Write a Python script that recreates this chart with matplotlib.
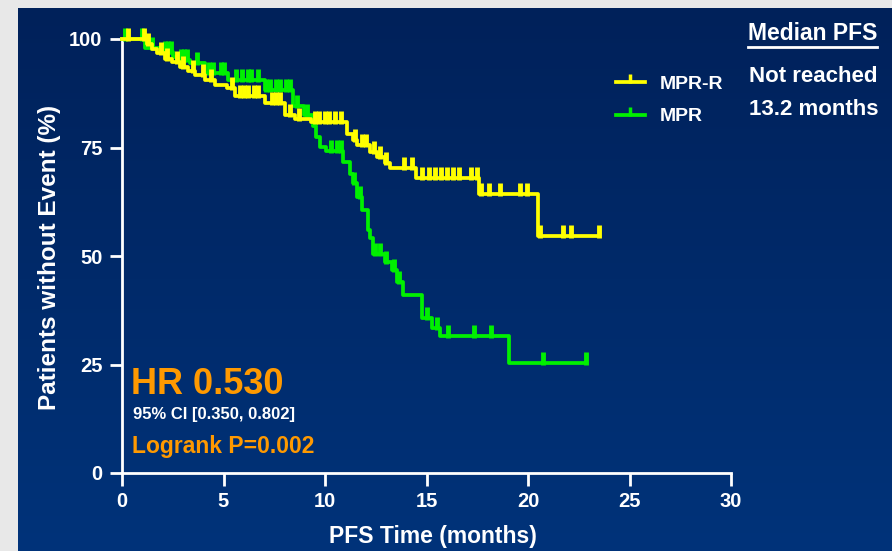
import numpy as np
import matplotlib.pyplot as plt
from matplotlib.path import Path
from matplotlib.lines import Line2D
from matplotlib.colors import LinearSegmentedColormap

plt.rcParams['font.family'] = ['Liberation Sans', 'DejaVu Sans']

# MPR-R arm: event times (months) and survival (%) just after each event
mprr_times = [1.23, 1.48, 1.72, 2.12, 2.46, 2.86, 3.25, 3.6, 4.09, 4.58, 5.17, 5.57,
              7.04, 8.03, 8.52, 9.3, 11.1, 11.4, 11.6, 12.2, 12.55, 12.95, 13.2,
              14.5, 17.6, 20.5]
mprr_surv = [98.8, 97.7, 96.8, 95.5, 94.6, 93.6, 92.6, 91.6, 90.6, 89.5, 88.6, 86.9,
             85.3, 82.5, 81.6, 80.9, 78.0, 76.8, 75.6, 74.0, 72.8, 71.5, 70.2,
             68.0, 64.2, 54.7]
mprr_end = 23.5
mprr_censor = [0.3, 1.1, 1.3, 1.9, 2.2, 2.7, 3.0, 3.5, 4.0, 4.4, 5.4, 5.8, 6.0, 6.2,
               6.5, 6.7, 7.4, 7.6, 7.8, 8.3, 8.7, 9.5, 9.7, 10.0, 10.2, 10.5, 10.8,
               11.5, 11.8, 12.0, 12.4, 12.7, 13.0, 13.9, 14.3, 14.8, 15.1, 15.4, 15.7,
               16.0, 16.3, 16.6, 17.2, 17.5, 17.7, 18.1, 18.6, 19.6, 19.95, 20.6,
               21.7, 22.1, 23.5]

# MPR arm
mpr_times = [1.13, 1.87, 2.51, 2.7, 3.35, 4.1, 5.2, 7.04, 8.42, 8.97, 9.4, 9.55,
             9.75, 10.05, 10.9, 11.23, 11.4, 11.6, 11.8, 12.1, 12.2, 12.36, 12.95,
             13.3, 13.55, 13.84, 14.78, 15.27, 15.66, 19.06]
mpr_surv = [98.0, 97.0, 95.8, 95.2, 94.5, 92.2, 90.6, 88.2, 84.6, 82.5, 80.0, 77.4,
            75.1, 74.3, 71.7, 69.0, 66.8, 63.6, 60.6, 56.0, 54.1, 50.5, 48.6,
            46.8, 44.0, 41.0, 35.7, 33.4, 31.6, 25.3]
mpr_end = 22.86
mpr_censor = [0.15, 1.0, 1.5, 2.1, 2.25, 2.4, 2.9, 3.05, 3.2, 3.7, 4.3, 4.5, 4.9,
              5.0, 5.6, 5.9, 6.2, 6.35, 6.7, 7.1, 7.3, 7.6, 7.8, 8.1, 8.3, 8.6, 9.1,
              10.3, 10.6, 10.8, 11.45, 11.7, 12.45, 12.7, 13.0, 13.4, 13.65, 15.0,
              15.5, 16.06, 17.34, 18.18, 20.74, 22.86]

YELLOW = '#ffff00'
GREEN = '#00f000'
ORANGE = '#ff9900'

# censor tick pointing upward from the curve
tick = Path([(0, -0.15), (0, 1.0)], [Path.MOVETO, Path.LINETO])


def km_steps(times, surv, end):
    t = np.r_[0, times, end]
    s = np.r_[100, surv, surv[-1]]
    return t, s


def censor_y(times, surv, cens):
    idx = np.searchsorted(times, cens, side='right') - 1
    s = np.asarray(surv)
    return np.where(idx < 0, 100, s[np.clip(idx, 0, None)])


fig = plt.figure(figsize=(8.92, 5.51), dpi=100, facecolor='#e8e8e8')

# dark blue gradient panel
bg = fig.add_axes([18 / 892, 0, 1 - 18 / 892, 543 / 551], zorder=-1)
cmap = LinearSegmentedColormap.from_list('panel', ['#00215a', '#00337a'])
bg.imshow(np.linspace(0, 1, 256).reshape(-1, 1), aspect='auto', cmap=cmap)
bg.axis('off')

ax = fig.add_axes([122 / 892, 78 / 551, 609 / 892, 434 / 551])
ax.patch.set_alpha(0)

arms = [
    (mpr_times, mpr_surv, mpr_end, mpr_censor, GREEN, 'MPR'),
    (mprr_times, mprr_surv, mprr_end, mprr_censor, YELLOW, 'MPR-R'),
]
for times, surv, end, cens, col, lab in arms:
    t, s = km_steps(times, surv, end)
    ax.step(t, s, where='post', color=col, lw=2.7, clip_on=False, zorder=3)
    ax.plot(cens, censor_y(times, surv, cens), ls='none', marker=tick, ms=16,
            mew=3.5, color=col, clip_on=False, zorder=3)

ax.set_xlim(0, 30)
ax.set_ylim(0, 100)
ax.set_xticks(range(0, 31, 5))
ax.set_yticks([0, 25, 50, 75, 100])
for sp in ['top', 'right']:
    ax.spines[sp].set_visible(False)
for sp in ['left', 'bottom']:
    ax.spines[sp].set_color('white')
    ax.spines[sp].set_linewidth(2)
ax.tick_params(colors='white', width=2, length=9, labelsize=14.5, pad=5)
for lbl in ax.get_xticklabels() + ax.get_yticklabels():
    lbl.set_fontweight('bold')

fig.text(50 / 892, 1 - 257 / 551, 'Patients without Event (%)', rotation=90,
         ha='center', va='center', color='white', fontsize=17.5, fontweight='bold')
fig.text(433 / 892, 1 - 537 / 551, 'PFS Time (months)', ha='center', va='center',
         color='white', fontsize=16.5, fontweight='bold')

# statistics box
fig.text(131 / 892, 1 - 385 / 551, 'HR 0.530', color=ORANGE, fontsize=26,
         fontweight='bold', ha='left', va='center')
fig.text(133 / 892, 1 - 414 / 551, '95% CI [0.350, 0.802]', color='white',
         fontsize=12, fontweight='bold', ha='left', va='center')
fig.text(132 / 892, 1 - 446 / 551, 'Logrank P=0.002', color=ORANGE, fontsize=16.5,
         fontweight='bold', ha='left', va='center')

# median PFS column
med = fig.text(748 / 892, 1 - 33 / 551, 'Median PFS', color='white', fontsize=16.5,
               fontweight='bold', ha='left', va='center')
fig.text(749 / 892, 1 - 77 / 551, 'Not reached', color='white', fontsize=16,
         fontweight='bold', ha='left', va='center')
fig.text(749 / 892, 1 - 110 / 551, '13.2 months', color='white', fontsize=16,
         fontweight='bold', ha='left', va='center')

handles = [Line2D([], [], color=YELLOW, lw=2.7, marker=tick, ms=12, mew=2.5),
           Line2D([], [], color=GREEN, lw=2.7, marker=tick, ms=12, mew=2.5)]
fig.legend(handles, ['MPR-R', 'MPR'], loc='upper left',
           bbox_to_anchor=(598 / 892, 1 - 58 / 551), frameon=False,
           labelcolor='white', handlelength=1.5, handletextpad=0.8,
           labelspacing=0.75, numpoints=1,
           prop={'weight': 'bold', 'size': 14})

# underline for "Median PFS"
fig.canvas.draw()
bb = med.get_window_extent().transformed(fig.transFigure.inverted())
fig.add_artist(Line2D([bb.x0, bb.x1], [bb.y0 - 0.004, bb.y0 - 0.004],
                      color='white', lw=2, transform=fig.transFigure))

fig.savefig('out.png', dpi=100, facecolor=fig.get_facecolor())
